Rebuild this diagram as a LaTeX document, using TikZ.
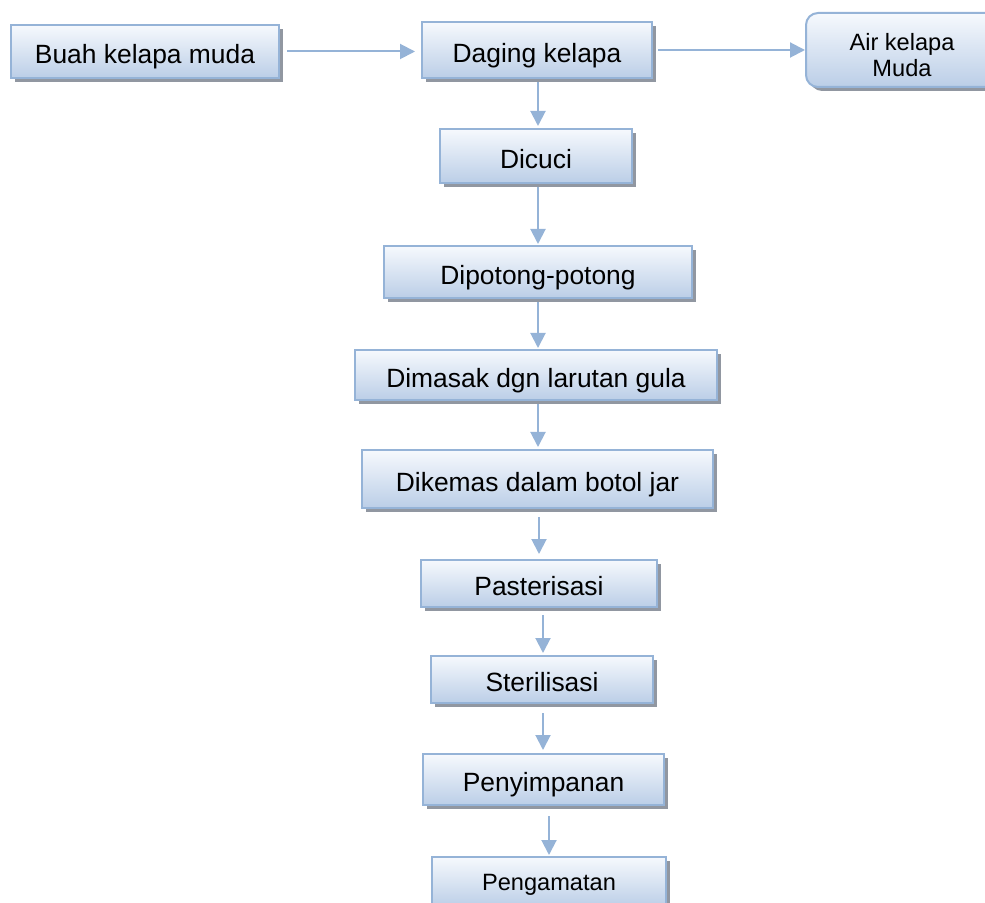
\documentclass[tikz,border=0pt]{standalone}
\usepackage{fontspec}
\setmainfont{Liberation Sans}
\usetikzlibrary{shadows,arrows.meta}
\definecolor{bordc}{RGB}{149,179,215}
\definecolor{topc}{RGB}{246,249,253}
\definecolor{botc}{RGB}{187,206,231}
\definecolor{shadc}{RGB}{145,151,161}
\definecolor{arrc}{RGB}{149,179,215}
\tikzset{
  stepbox/.style={draw=bordc, line width=1pt, top color=topc, bottom color=botc,
    drop shadow={shadow xshift=2pt, shadow yshift=-2pt, fill=shadc, opacity=1},
    inner sep=0pt, outer sep=0pt, align=center,
    text height=12.5pt, text depth=0.1pt,
    font=\fontsize{13.2}{15}\selectfont},
  smalltext/.style={font=\fontsize{11.8}{13}\selectfont},
  arr/.style={draw=arrc, line width=1pt, -{Triangle[width=7.5pt,length=7.5pt]}},
}
\begin{document}
\begin{tikzpicture}[x=0.5pt,y=-0.5pt]
\useasboundingbox (0,0) rectangle (985,903);
\node[stepbox, minimum width=134pt, minimum height=26.5pt] (n1) at (145,51.5) {Buah kelapa muda};
\node[stepbox, minimum width=115pt, minimum height=28pt] (n2) at (537,50) {Daging kelapa};
\node[stepbox, smalltext, rounded corners=6pt, minimum width=96pt, minimum height=37pt, text height=26.6pt, text depth=0.1pt] (n3) at (902,50) {Air kelapa\\Muda};
\node[stepbox, minimum width=96pt, minimum height=27pt] (n4) at (536,156) {Dicuci};
\node[stepbox, minimum width=154pt, minimum height=26pt] (n5) at (538,272) {Dipotong-potong};
\node[stepbox, minimum width=181pt, minimum height=25pt] (n6) at (536,375) {Dimasak dgn larutan gula};
\node[stepbox, minimum width=175.5pt, minimum height=29pt] (n7) at (537.5,479) {Dikemas dalam botol jar};
\node[stepbox, minimum width=118pt, minimum height=23.5pt] (n8) at (539,583.5) {Pasterisasi};
\node[stepbox, minimum width=111pt, minimum height=23.5pt] (n9) at (542,679.5) {Sterilisasi};
\node[stepbox, minimum width=120.5pt, minimum height=25.5pt] (n10) at (543.5,779.5) {Penyimpanan};
\node[stepbox, smalltext, minimum width=117pt, minimum height=25pt, text height=8.7pt, text depth=0.1pt] (n11) at (549,882) {Pengamatan};
% horizontal arrows
\draw[arr, shorten >=3.5pt] ([xshift=4pt]n1.east) -- (n1.east -| n2.west);
\draw[arr, shorten >=0.5pt] ([xshift=3pt]n2.east) -- (n2.east -| n3.west);
% vertical arrows
\draw[arr, shorten >=1.5pt] ([xshift=0.5pt,yshift=-2pt]n2.south) -- ([xshift=0.5pt]n2.south |- n4.north);
\draw[arr, shorten >=1pt] ([xshift=1pt,yshift=-2pt]n4.south) -- ([xshift=1pt]n4.south |- n5.north);
\draw[arr, shorten >=1pt] ([yshift=-2pt]n5.south) -- (n5.south |- n6.north);
\draw[arr, shorten >=1.5pt] ([xshift=1pt,yshift=-2pt]n6.south) -- ([xshift=1pt]n6.south |- n7.north);
\draw[arr, shorten >=3pt] ([xshift=0.75pt,yshift=-4.5pt]n7.south) -- ([xshift=0.75pt]n7.south |- n8.north);
\draw[arr, shorten >=1.5pt] ([xshift=2pt,yshift=-4pt]n8.south) -- ([xshift=2pt]n8.south |- n9.north);
\draw[arr, shorten >=2pt] ([xshift=0.5pt,yshift=-5pt]n9.south) -- ([xshift=0.5pt]n9.south |- n10.north);
\draw[arr, shorten >=1pt] ([xshift=2.75pt,yshift=-5.5pt]n10.south) -- ([xshift=2.75pt]n10.south |- n11.north);
\end{tikzpicture}
\end{document}
